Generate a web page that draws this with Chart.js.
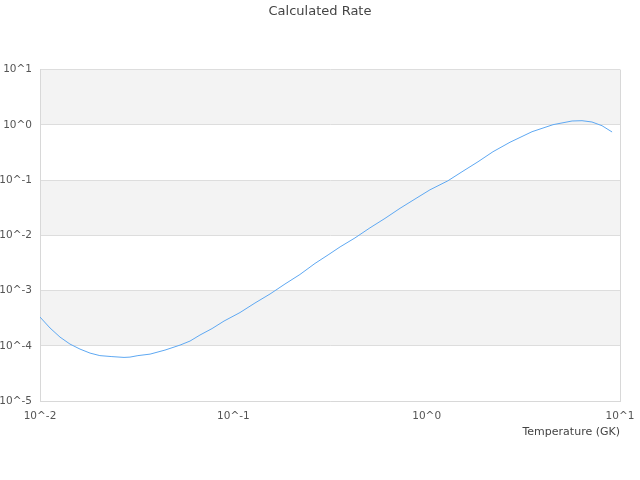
<!DOCTYPE html>
<html>
<head>
<meta charset="utf-8">
<script src="https://cdn.jsdelivr.net/npm/chart.js@4.4.1/dist/chart.umd.min.js"></script>
<style>
  body { margin: 0; background: #fff; }
  canvas { display: block; }
</style>
</head>
<body>
<canvas id="myChart" width="640" height="480"></canvas>
<script>
// Temperatura (GK) y tasa calculada
var temps = [0.01, 0.01127, 0.01269, 0.01429, 0.0161, 0.01815, 0.0204, 0.02355, 0.0272, 0.0292,
    0.0321, 0.0371, 0.0443, 0.053, 0.0597, 0.0672, 0.0776, 0.0895, 0.1083, 0.1294,
    0.1548, 0.185, 0.221, 0.2645, 0.309, 0.3565, 0.4258, 0.509, 0.6087, 0.728,
    0.891, 1.04, 1.288, 1.523, 1.843, 2.203, 2.698, 3.507, 4.502, 5.65,
    6.36, 7.16, 8.07, 9.1];
var rates = [3.33e-4, 2.11e-4, 1.445e-4, 1.08e-4, 8.77e-5, 7.42e-5, 6.68e-5, 6.41e-5, 6.2e-5, 6.28e-5,
    6.68e-5, 7.11e-5, 8.41e-5, 1.035e-4, 1.225e-4, 1.574e-4, 2.06e-4, 2.82e-4, 4.02e-4, 5.98e-4,
    8.7e-4, 1.32e-3, 1.96e-3, 3.11e-3, 4.43e-3, 6.19e-3, 9.0e-3, 1.37e-2, 2.03e-2, 3.09e-2,
    4.79e-2, 6.68e-2, 9.73e-2, 0.1416, 0.215, 0.3266, 0.485, 0.752, 1.007, 1.175,
    1.19, 1.127, 0.966, 0.743];

// Marcas de los ejes (decadas)
var xTicks = [0.01, 0.1, 1, 10];
var yTicks = [1e-5, 1e-4, 1e-3, 1e-2, 1e-1, 1, 10];
// Bandas grises alternas [desde, hasta]
var bands = [[1, 10], [0.01, 0.1], [1e-4, 1e-3]];

function potencia(v) {
    return '10^' + Math.round(Math.log10(v));
}

// Plugin: bandas alternas y borde derecho
var bandasPlugin = {
    id: 'bandas',
    beforeDraw: function (chart) {
        var ctx = chart.ctx;
        var area = chart.chartArea;
        var y = chart.scales.y;
        ctx.save();
        ctx.fillStyle = '#f3f3f3';
        bands.forEach(function (b) {
            var top = y.getPixelForValue(b[1]);
            var bottom = y.getPixelForValue(b[0]);
            ctx.fillRect(area.left, top, area.right - area.left, bottom - top);
        });
        ctx.restore();
    },
    afterDraw: function (chart) {
        var ctx = chart.ctx;
        var area = chart.chartArea;
        ctx.save();
        ctx.strokeStyle = '#d8d8d8';
        ctx.lineWidth = 1;
        ctx.beginPath();
        ctx.moveTo(Math.round(area.right) + 0.5, area.top);
        ctx.lineTo(Math.round(area.right) + 0.5, area.bottom);
        ctx.stroke();
        ctx.restore();
    }
};

Chart.defaults.font.family = 'DejaVu Sans';
Chart.defaults.color = '#555';

new Chart('myChart', {
    type: 'line',
    data: {
        datasets: [{
            label: 'Rate',
            data: temps.map(function (t, i) { return { x: t, y: rates[i] }; }),
            borderColor: '#5ea8f2',
            borderWidth: 1,
            pointRadius: 0,
            tension: 0,
            fill: false
        }]
    },
    options: {
        responsive: false,
        animation: false,
        layout: { padding: { left: 0, right: 0, top: 0, bottom: 41 } },
        plugins: {
            legend: { display: false },
            tooltip: { enabled: false },
            title: {
                display: true,
                text: 'Calculated Rate',
                color: '#444',
                font: { size: 13, weight: 'normal' },
                padding: { top: 4, bottom: 50 }
            }
        },
        scales: {
            x: {
                type: 'logarithmic',
                min: 0.01,
                max: 10,
                afterBuildTicks: function (scale) {
                    scale.ticks = xTicks.map(function (v) { return { value: v }; });
                },
                afterFit: function (scale) {
                    scale.paddingRight = 20;
                },
                ticks: {
                    callback: function (v) { return potencia(v); },
                    font: { size: 10.5 },
                    maxRotation: 0,
                    padding: 1
                },
                grid: { display: false },
                border: { display: true, color: '#d8d8d8' },
                title: {
                    display: true,
                    text: 'Temperature (GK)',
                    align: 'end',
                    color: '#444',
                    font: { size: 11 },
                    padding: { top: 2, bottom: 0 }
                }
            },
            y: {
                type: 'logarithmic',
                min: 1e-5,
                max: 10,
                afterBuildTicks: function (scale) {
                    scale.ticks = yTicks.map(function (v) { return { value: v }; });
                },
                afterFit: function (scale) {
                    scale.width = 40;
                },
                ticks: {
                    callback: function (v) { return potencia(v); },
                    font: { size: 10.5 },
                    padding: 8
                },
                grid: { color: '#dddddd', drawTicks: false },
                border: { display: true, color: '#d8d8d8' }
            }
        }
    },
    plugins: [bandasPlugin]
});
</script>
</body>
</html>
